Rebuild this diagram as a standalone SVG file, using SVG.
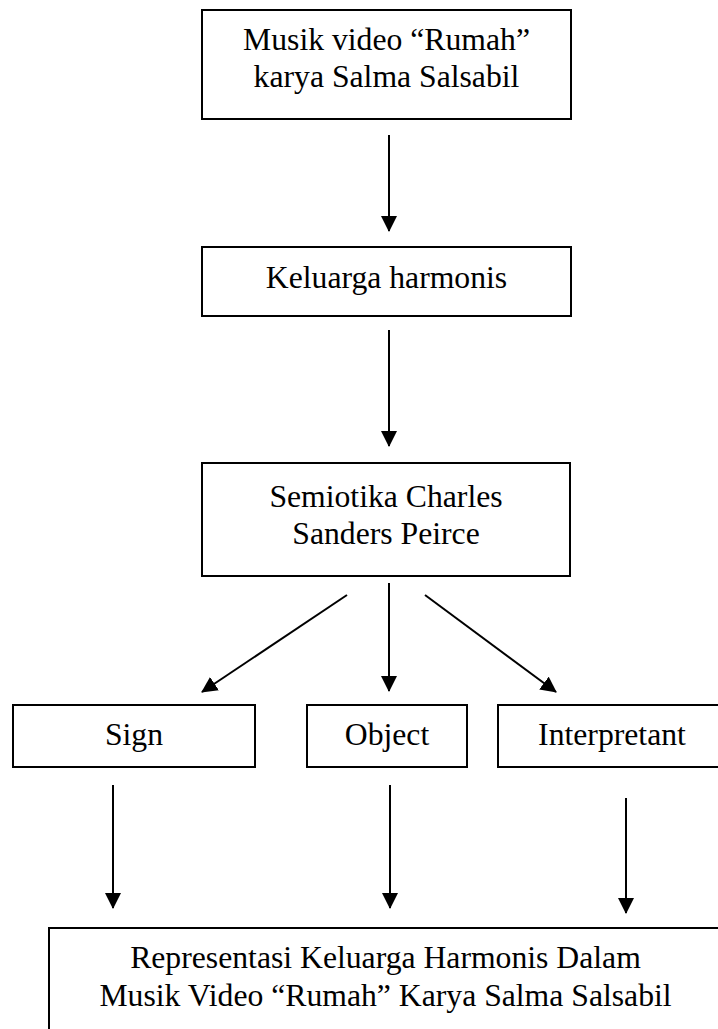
<svg xmlns="http://www.w3.org/2000/svg" width="718" height="1029" viewBox="0 0 718 1029">
<style>
.box{fill:#fff;stroke:#000;stroke-width:2}
.t{font-family:"Liberation Serif","Times New Roman",serif;font-size:31.7px;fill:#000;text-anchor:middle}
.c{stroke:#000;stroke-width:2;fill:none;marker-end:url(#ah)}
</style>
<defs>
<marker id="ah" markerUnits="userSpaceOnUse" markerWidth="16" markerHeight="16" refX="15" refY="8" orient="auto">
<path d="M0,0 L16,8 L0,16 z" fill="#000"/>
</marker>
</defs>
<rect width="718" height="1029" fill="#fff"/>
<g id="connectors">
<line class="c" x1="389" y1="135" x2="389" y2="231"/>
<line class="c" x1="389" y1="330" x2="389" y2="446"/>
<line class="c" x1="389" y1="583" x2="389" y2="691"/>
<line class="c" x1="347" y1="595" x2="202" y2="692"/>
<line class="c" x1="425" y1="595" x2="556" y2="692"/>
<line class="c" x1="113" y1="785" x2="113" y2="908"/>
<line class="c" x1="390" y1="785" x2="390" y2="908"/>
<line class="c" x1="626" y1="798" x2="626" y2="913"/>
</g>
<g id="node-musik">
<rect class="box" x="202" y="10" width="369" height="109"/>
<text class="t" x="386.5" y="50">Musik video “Rumah”</text>
<text class="t" x="386.5" y="87">karya Salma Salsabil</text>
</g>
<g id="node-keluarga">
<rect class="box" x="202" y="247" width="369" height="69"/>
<text class="t" x="386.5" y="288">Keluarga harmonis</text>
</g>
<g id="node-semiotika">
<rect class="box" x="202" y="463" width="368" height="113"/>
<text class="t" x="386" y="507">Semiotika Charles</text>
<text class="t" x="386" y="544">Sanders Peirce</text>
</g>
<g id="node-sign">
<rect class="box" x="13" y="705" width="242" height="62"/>
<text class="t" x="134" y="745">Sign</text>
</g>
<g id="node-object">
<rect class="box" x="307" y="705" width="160" height="62"/>
<text class="t" x="387" y="745">Object</text>
</g>
<g id="node-interpretant">
<rect class="box" x="498" y="705" width="240" height="62"/>
<text class="t" x="612" y="745">Interpretant</text>
</g>
<g id="node-representasi">
<rect class="box" x="49" y="928" width="700" height="130"/>
<text class="t" x="385.5" y="968">Representasi Keluarga Harmonis Dalam</text>
<text class="t" x="385.5" y="1006">Musik Video “Rumah” Karya Salma Salsabil</text>
</g>
</svg>
